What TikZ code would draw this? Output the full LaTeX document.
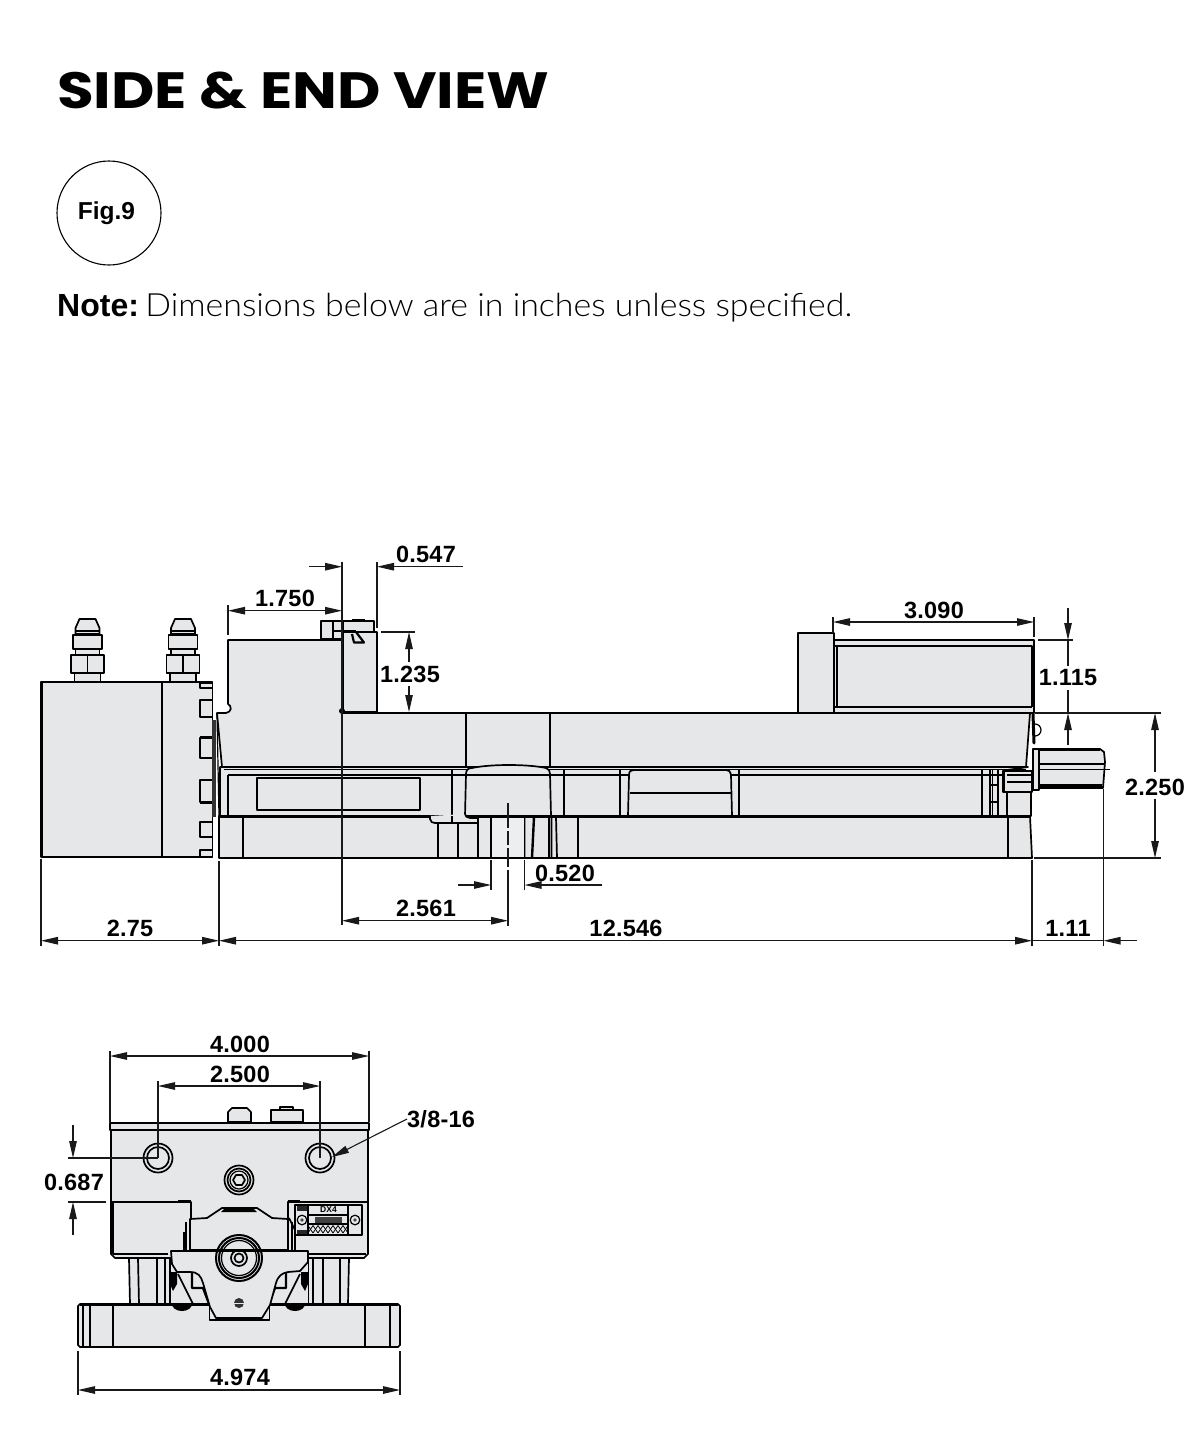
\documentclass[tikz,border=0pt]{standalone}
\usepackage{fontspec}
\usetikzlibrary{arrows.meta}
\setmainfont{Liberation Sans}
\newfontfamily\titlef{Poppins}[UprightFont=* Bold]
\newfontfamily\lightf{Lato Light}
\newfontfamily\dimf{Liberation Sans}[Renderer=Basic,LetterSpace=1.0]
\definecolor{gbody}{HTML}{E6E7E8}
\tikzset{
  hd/.tip={Triangle[length=17pt,width=7.5pt]},
  ln/.style={line width=1.7pt,line join=round},
  th/.style={line width=1.2pt},
  hv/.style={line width=2.6pt},
  part/.style={fill=gbody,draw=black,line width=1.7pt,line join=round},
  dl/.style={line width=1.1pt,black!90},
  da/.style={dl,-hd},
  dd/.style={dl,hd-hd},
  dt/.style={font=\dimf\bfseries\fontsize{23.5}{26}\selectfont,inner sep=0pt,anchor=center},
}
\newcommand{\fitting}[1]{%
  \begin{scope}[shift={(#1,0)}]
    \filldraw[part] (-13,682) -- (-13,673) -- (13,673) -- (13,682);
    \filldraw[part] (-16.5,655) rectangle (16.5,673);
    \draw[ln] (0,655) -- (0,673);
    \filldraw[part] (-12,649) rectangle (12,655);
    \filldraw[part] (-14.5,635) rectangle (14.5,649);
    \filldraw[part] (-12,634) -- (-12,628) -- (-8,619) -- (8,619) -- (12,628) -- (12,634) -- cycle;
    \draw[th] (-12,631) -- (12,631);
  \end{scope}}
\begin{document}
\begin{tikzpicture}[x=1pt,y=-1pt]
\useasboundingbox (0,0) rectangle (1199,1440);
% ---------- headings
\node[anchor=base west,inner sep=0pt,font=\titlef\fontsize{51}{54}\selectfont] (title) at (57,108) {\scalebox{1.17}[1]{SIDE \& END VIEW}};
\node[draw,circle,minimum size=104pt,inner sep=0pt,line width=1.1pt] (fig) at (109,213) {};
\node[inner sep=0pt,font=\bfseries\fontsize{24.5}{26}\selectfont] (figlabel) at (106.5,213.5) {Fig.9};
\node[draw=none,inner sep=0pt,anchor=base west,font=\fontsize{32}{34}\selectfont] (note) at (57,316) {\textbf{Note:}\hspace{0.2em}\scalebox{1.06}[1]{\lightf Dimensions below are in inches unless specified.}};
% ---------- side view: cylinder block
\fitting{87.5}
\fitting{183}
\filldraw[part] (41,682) rectangle (162,857);
\filldraw[part] (162,682) rectangle (212.5,857);
\draw[line width=2.6pt] (41.5,682) -- (41.5,857);
\draw[line width=2.4pt] (162,682) -- (162,857);
\foreach \a/\b in {683/688,700/717,738/758,780/802,822/837,850/857}
  \draw[ln] (212,\a) -- (200,\a) -- (200,\b) -- (212,\b);
\draw[line width=3pt] (200,737) -- (212,737);
\draw[line width=3pt] (200,802) -- (212,802);
\fill[black!80] (212,720) rectangle (215.5,817);
% ---------- side view: base
\filldraw[part] (219,816) -- (1030,816) -- (1032,858) -- (219,858) -- cycle;
% ---------- side view: carriage
\filldraw[part] (220,767) -- (1028,767) -- (1007,770) -- (1007,816) -- (220,816) -- cycle;
\filldraw[part] (1003,771) rectangle (1032,792);
\draw[th] (1007,775) -- (1032,775) (1007,782) -- (1032,782);
\filldraw[part] (1007,792) -- (1031,792) -- (1031,816) -- (1007,816) -- cycle;
% ---------- side view: body and jaws
\filldraw[part] (228,640) -- (342,640) -- (342,713) -- (1030,713) -- (1026,767) -- (222,767) -- (217,713) -- (226,713) .. controls (232,712) and (232,706) .. (228,704) -- cycle;
\filldraw[part] (321,621) rectangle (342,639);
\draw[line width=2.2pt] (333,621) -- (333,639);
\draw[th] (333,631) -- (342,631);
\filldraw[part] (342,632) -- (377,632) -- (377,712) -- (342,712) -- cycle;
\filldraw[part] (343,632) -- (343,621) -- (374,621) -- (374,632) -- cycle;
\fill (352,619) rectangle (365,621);
\draw[line width=2.4pt] (342,631.5) -- (356,631.5) (363,632) -- (377,632);
\draw[line width=2.2pt,line join=round] (352,634) -- (354,642.5) -- (364,642.5) -- (356,632);
\draw[line width=2.4pt] (342.5,621) -- (342.5,712) (377,632) -- (377,712);
\fill (342,711) circle (3);
\filldraw[part] (798,633) rectangle (834,713);
\filldraw[part] (834,640) rectangle (1034,713);
\draw[ln] (834,646) -- (1032,646) -- (1032,707);
\draw[ln] (837,646) -- (837,707);
\draw[ln] (834,707) -- (1032,707);
\draw[line width=2.3pt] (798,633) -- (798,713) (834,633) -- (834,713);
% rails
\draw[line width=2.4pt] (222,767) -- (1027,767);
\draw[ln] (224,769.5) -- (1026,769.5);
\draw[ln] (228,775) -- (1005,775);
\draw[ln] (228,775) -- (228,816);
\draw[line width=3.2pt] (219,816.5) -- (430,816.5) (478,816.5) -- (1031,816.5);
\draw[line width=2.4pt] (219,858) -- (1032,858);
\draw[th] (217,714) -- (219,816);
\draw[line width=1.8pt] (243,816) -- (243,858);
\draw[line width=1.2pt] (1008,816) -- (1008,858);
\draw[ln] (257,778) rectangle (420,810);
\draw[ln] (466,713) -- (466,767) (550,713) -- (550,767);
% centre block
\filldraw[part] (465,816) -- (466,774) .. controls (466,770) and (468,768) .. (472,768) .. controls (490,764) and (528,764) .. (546,768) .. controls (549,769) and (550,771) .. (550,774) -- (551,816) -- cycle;
\draw[ln] (466,775) -- (550,775);
\draw[ln] (452,769) -- (452,816);
\draw[ln] (564,769) -- (564,816);
\draw[ln] (620,769) -- (620,816);
% window
\filldraw[part] (628,816) -- (629,775) .. controls (629,771) and (631,770) .. (634,770) -- (726,770) .. controls (729,770) and (730,771) .. (731,775) -- (732,816) -- cycle;
\draw[ln] (630,793) -- (731,793);
\draw[ln] (739,769) -- (739,816);
% right end
\draw[ln] (982,770) -- (982,816);
\draw[th] (990,770) -- (990,816) (992.5,770) -- (992.5,816);
\draw[th] (998,770) -- (998,816) (990,785) -- (998,785) (990,802) -- (998,802);
\draw[line width=3pt] (1003,771) -- (1003,792);
% shaft
\filldraw[part] (1039,749) -- (1100,749) -- (1104,752) -- (1105,762) -- (1103,788) -- (1039,788) -- cycle;
\draw[ln] (1039,764) -- (1104,764);
\draw[ln] (1039,785) -- (1102,785);
\draw[line width=2.2pt] (1039,749.5) -- (1100,749.5) (1039,787.5) -- (1103,787.5);
\filldraw[part] (1033,749) rectangle (1039,790);
\draw[line width=3pt,line cap=round] (1033,714) -- (1034,743);
\draw[th] (1035,724) arc[start angle=-90,end angle=90,radius=6] ;
\draw[line width=.7pt] (1039,769) -- (1110,769);
% underside of body
\filldraw[part] (430,816) -- (430,819) .. controls (431,822) and (432,823) .. (435,823) -- (478,823) -- (478,818) -- (470,818) .. controls (467,818) and (465,816) .. (465,814);
\draw[ln] (452,816) -- (452,823);
\draw[ln] (438,823) -- (438,858) (458,823) -- (458,858) (478,816) -- (478,858) (491,816) -- (491,858) (524.5,816) -- (524.5,858) (549,817) -- (549,858) (551.5,817) -- (551.5,858) (556,817) -- (557,858) (578,817) -- (578,858);
\draw[line width=2.4pt] (534,817) -- (532,858);
\fill[gbody!70!white] (492,817.5) rectangle (524,857);
\draw[dl] (508,803) -- (508,828) (508,831) -- (508,845) (508,848) -- (508,867) (508,870) -- (508,926);
% ---------- side view dimensions
\draw[dl] (342,562) -- (342,925);
\draw[dl] (377,562) -- (377,628);
\draw[dl] (228,605) -- (228,635);
\draw[da] (309,566.7) -- (342,566.7);
\draw[da] (463,566.7) -- (377,566.7);
\node[dt] (d547) at (426,554) {0.547};
\draw[dd] (228,610.7) -- (342,610.7);
\node[dt] (d175) at (285,598) {1.750};
\draw[dl] (381,632) -- (415,632);
\draw[da] (409,662) -- (409,632);
\draw[da] (409,686) -- (409,712);
\node[dt] (d1235) at (410,674) {1.235};
\draw[dl] (833,617) -- (833,633) (1034,617) -- (1034,637);
\draw[dd] (833,622) -- (1034,622);
\node[dt] (d309) at (934,610) {3.090};
\draw[dl] (1038,640) -- (1073,640);
\draw[dl] (1068,640) -- (1068,666) (1068,690) -- (1068,713);
\draw[da] (1068,608) -- (1068,640);
\draw[da] (1068,745) -- (1068,713);
\node[dt] (d1115) at (1068,678) {1.115};
\draw[dl] (1035,713) -- (1161,713) (1034,858) -- (1161,858);
\draw[da] (1155,772) -- (1155,713);
\draw[da] (1155,799) -- (1155,858);
\node[dt] (d225) at (1155,787) {2.250};
\draw[dl] (491,860) -- (491,890) (524.5,860) -- (524.5,890);
\draw[da] (458,885) -- (491,885);
\draw[da] (602,885) -- (524.5,885);
\node[dt] (d52) at (565,873) {0.520};
\draw[dd] (342,920.7) -- (508,920.7);
\node[dt] (d2561) at (426,908) {2.561};
\draw[dl] (41,859) -- (41,946) (219,861) -- (219,946) (1032,860) -- (1032,946) (1103.5,789) -- (1103.5,946);
\draw[dd] (41,940.7) -- (219,940.7);
\draw[dd] (219,940.7) -- (1032,940.7);
\draw[da] (1137,940.7) -- (1103.5,940.7);
\draw[dl] (1032,940.7) -- (1103.5,940.7);
\node[dt] (d275) at (130,928) {2.75};
\node[dt] (d12546) at (626,928) {12.546};
\node[dt] (d111) at (1068,928) {1.11};
% ---------- end view: legs
\filldraw[part] (129,1258) -- (130,1304) -- (170,1304) -- (170,1258) -- cycle;
\draw[ln] (138,1258) -- (139,1304) (157,1258) -- (157,1304) (165,1258) -- (165,1304);
\filldraw[part] (308,1258) -- (308,1304) -- (348,1304) -- (349,1258) -- cycle;
\draw[ln] (313,1258) -- (313,1304) (323,1258) -- (323,1304) (340,1258) -- (340,1304);
% ---------- end view: base
\filldraw[part] (78,1306) -- (80,1304) -- (398,1304) -- (400,1306) -- (400,1345) -- (398,1347) -- (80,1347) -- (78,1345) -- cycle;
\draw[line width=2.4pt] (80,1304.5) -- (398,1304.5) (80,1347) -- (398,1347);
\draw[ln] (83,1305) -- (83,1347) (90,1305) -- (90,1347) (113,1305) -- (113,1347) (365,1305) -- (365,1347) (390,1305) -- (390,1347);
% ---------- end view: body
\filldraw[part] (228,1122) -- (228,1112) -- (232,1108) -- (247,1108) -- (251,1112) -- (251,1122) -- cycle;
\filldraw[part] (280,1110) -- (280,1107) -- (293,1107) -- (293,1110) -- cycle;
\filldraw[part] (271,1110) rectangle (303,1122);
\filldraw[part] (111,1130) -- (111,1254) -- (115,1258) -- (190,1258) -- (190,1250) -- (288,1250) -- (288,1258) -- (364,1258) -- (368,1254) -- (368,1130) -- cycle;
\filldraw[part] (110,1123) rectangle (369,1130);
\draw[line width=2.6pt] (110,1123) -- (369,1123);
\draw[line width=2.4pt] (111,1130) -- (111,1254) (368,1130) -- (368,1254);
\draw[ln] (111,1202) -- (191,1202) -- (191,1224);
\draw[line width=2.6pt] (178,1201) -- (191,1201);
\draw[ln] (288,1224) -- (288,1202) -- (367,1202);
\draw[line width=2.6pt] (288,1201) -- (300,1201);
\draw[th] (113,1203) -- (113,1254);
\draw[ln] (113,1254) -- (168,1254);
\draw[ln] (308,1254) -- (366,1254);
% holes
\foreach \cx in {158,320}{
  \draw[ln] (\cx,1158) circle (14.5);
  \draw[ln] (\cx,1158) circle (11);
}
\draw[ln] (239,1180) circle (14.5);
\draw[ln] (239,1180) circle (11.5);
\draw[th] (239,1180) circle (9);
\draw[ln] (233,1180) -- (236,1175) -- (242,1175) -- (245,1180) -- (242,1185) -- (236,1185) -- cycle;
% plate
\draw[ln] (295,1205) rectangle (362,1235);
\fill[black!85] (297,1206) rectangle (307,1211);
\fill[black!85] (297,1230) rectangle (307,1234);
\draw[th] (308,1206) -- (308,1234) (348,1206) -- (348,1234) (308,1215) -- (348,1215) (308,1224) -- (348,1224);
\draw[th] (302,1220) circle (4.8);
\fill[black!70] (302,1220) circle (1.8);
\draw[th] (355,1220) circle (4.8);
\fill[black!70] (355,1220) circle (1.8);
\node[inner sep=0pt,font=\bfseries\fontsize{8.5}{8}\selectfont] (dx) at (328.5,1210) {DX4};
\fill[black!75] (315,1217) rectangle (342,1223);
\foreach \i in {0,...,7}{
  \draw[line width=.8pt] ({308+\i*5},1225.5) -- ({313+\i*5},1233);
  \draw[line width=.8pt] ({313+\i*5},1225.5) -- ({308+\i*5},1233);
}
\draw[ln] (289,1218) -- (295,1230);
% ---------- end view: centre mechanism
\filldraw[part] (190,1250) -- (190,1219) -- (207,1218) -- (222,1208) -- (257,1208) -- (272,1218) -- (288,1219) -- (288,1250) -- cycle;
\fill (225,1208) -- (253,1208) -- (257,1212) -- (221,1212) -- cycle;
\draw[ln] (204,1250) arc[start angle=180,end angle=0,x radius=35,y radius=27];
\draw[line width=2.2pt] (199,1250) arc[start angle=180,end angle=0,x radius=40,y radius=32];
\draw[ln] (186,1222) -- (186,1250) (184,1232) -- (184,1250);
\draw[ln] (292,1222) -- (292,1250) (295,1232) -- (295,1250);
% wings underneath
\fill[gbody] (171,1258) rectangle (308,1303);
\fill (170,1272) -- (177,1272) -- (177,1284) -- (173,1291) -- (170,1284) -- cycle;
\fill (308,1272) -- (301,1272) -- (301,1284) -- (305,1291) -- (308,1284) -- cycle;
\draw[ln] (178,1274) -- (193,1304);
\draw[ln] (300,1274) -- (285,1304);
\draw[line width=2.2pt,line join=round] (192,1272) -- (192,1288) -- (203,1288) -- (209,1304);
\draw[line width=2.2pt,line join=round] (286,1272) -- (286,1288) -- (275,1288) -- (269,1304);
\fill (172,1304) arc[start angle=180,end angle=360,x radius=10,y radius=-7] -- cycle;
\fill (285,1304) arc[start angle=180,end angle=360,x radius=10,y radius=-7] -- cycle;
\filldraw[part] (209.5,1303) -- (209.5,1320) -- (269.5,1320) -- (269.5,1303) -- cycle;
\filldraw[part] (171,1251) -- (308,1251) -- (308,1262) -- (300,1271) -- (288,1272) .. controls (282,1273) and (278,1276) .. (276,1283) -- (270,1305) -- (262,1318) -- (216,1318) -- (210,1307) -- (203,1283) .. controls (201,1276) and (198,1272) .. (190,1272) -- (177,1272) -- (172,1264) -- cycle;
\draw[line width=2pt] (239,1258) circle (23);
\draw[line width=2pt] (239,1258) circle (20);
\draw[th] (239,1258) circle (17.5);
\draw[ln] (239,1258) circle (8);
\draw[ln] (239,1258) circle (4.5);
\fill[black!80] (239,1303) circle (5);
\draw[gbody,line width=.5pt] (234,1303) -- (244,1303);
% ---------- end view dimensions
\draw[dl] (110,1051) -- (110,1122) (369,1051) -- (369,1122);
\draw[dd] (110,1056) -- (369,1056);
\node[dt] (d4) at (240,1044) {4.000};
\draw[dl] (158,1081) -- (158,1158) (320,1081) -- (320,1158);
\draw[dd] (158,1086) -- (320,1086);
\node[dt] (d25) at (240,1074) {2.500};
\node[dt,anchor=west] (thr) at (407,1119) {3/8-16};
\coordinate (tip) at (332,1157);
\draw[da] (thr.west) -- (tip);
\draw[dl] (68,1158) -- (158,1158) (68,1202) -- (106,1202);
\draw[da] (73,1125) -- (73,1158);
\draw[da] (73,1235) -- (73,1202);
\node[dt] (d687) at (74,1182) {0.687};
\draw[dl] (78,1351) -- (78,1395) (400,1351) -- (400,1395);
\draw[dd] (78,1390) -- (400,1390);
\node[dt] (d4974) at (240,1377) {4.974};
\end{tikzpicture}
\end{document}
